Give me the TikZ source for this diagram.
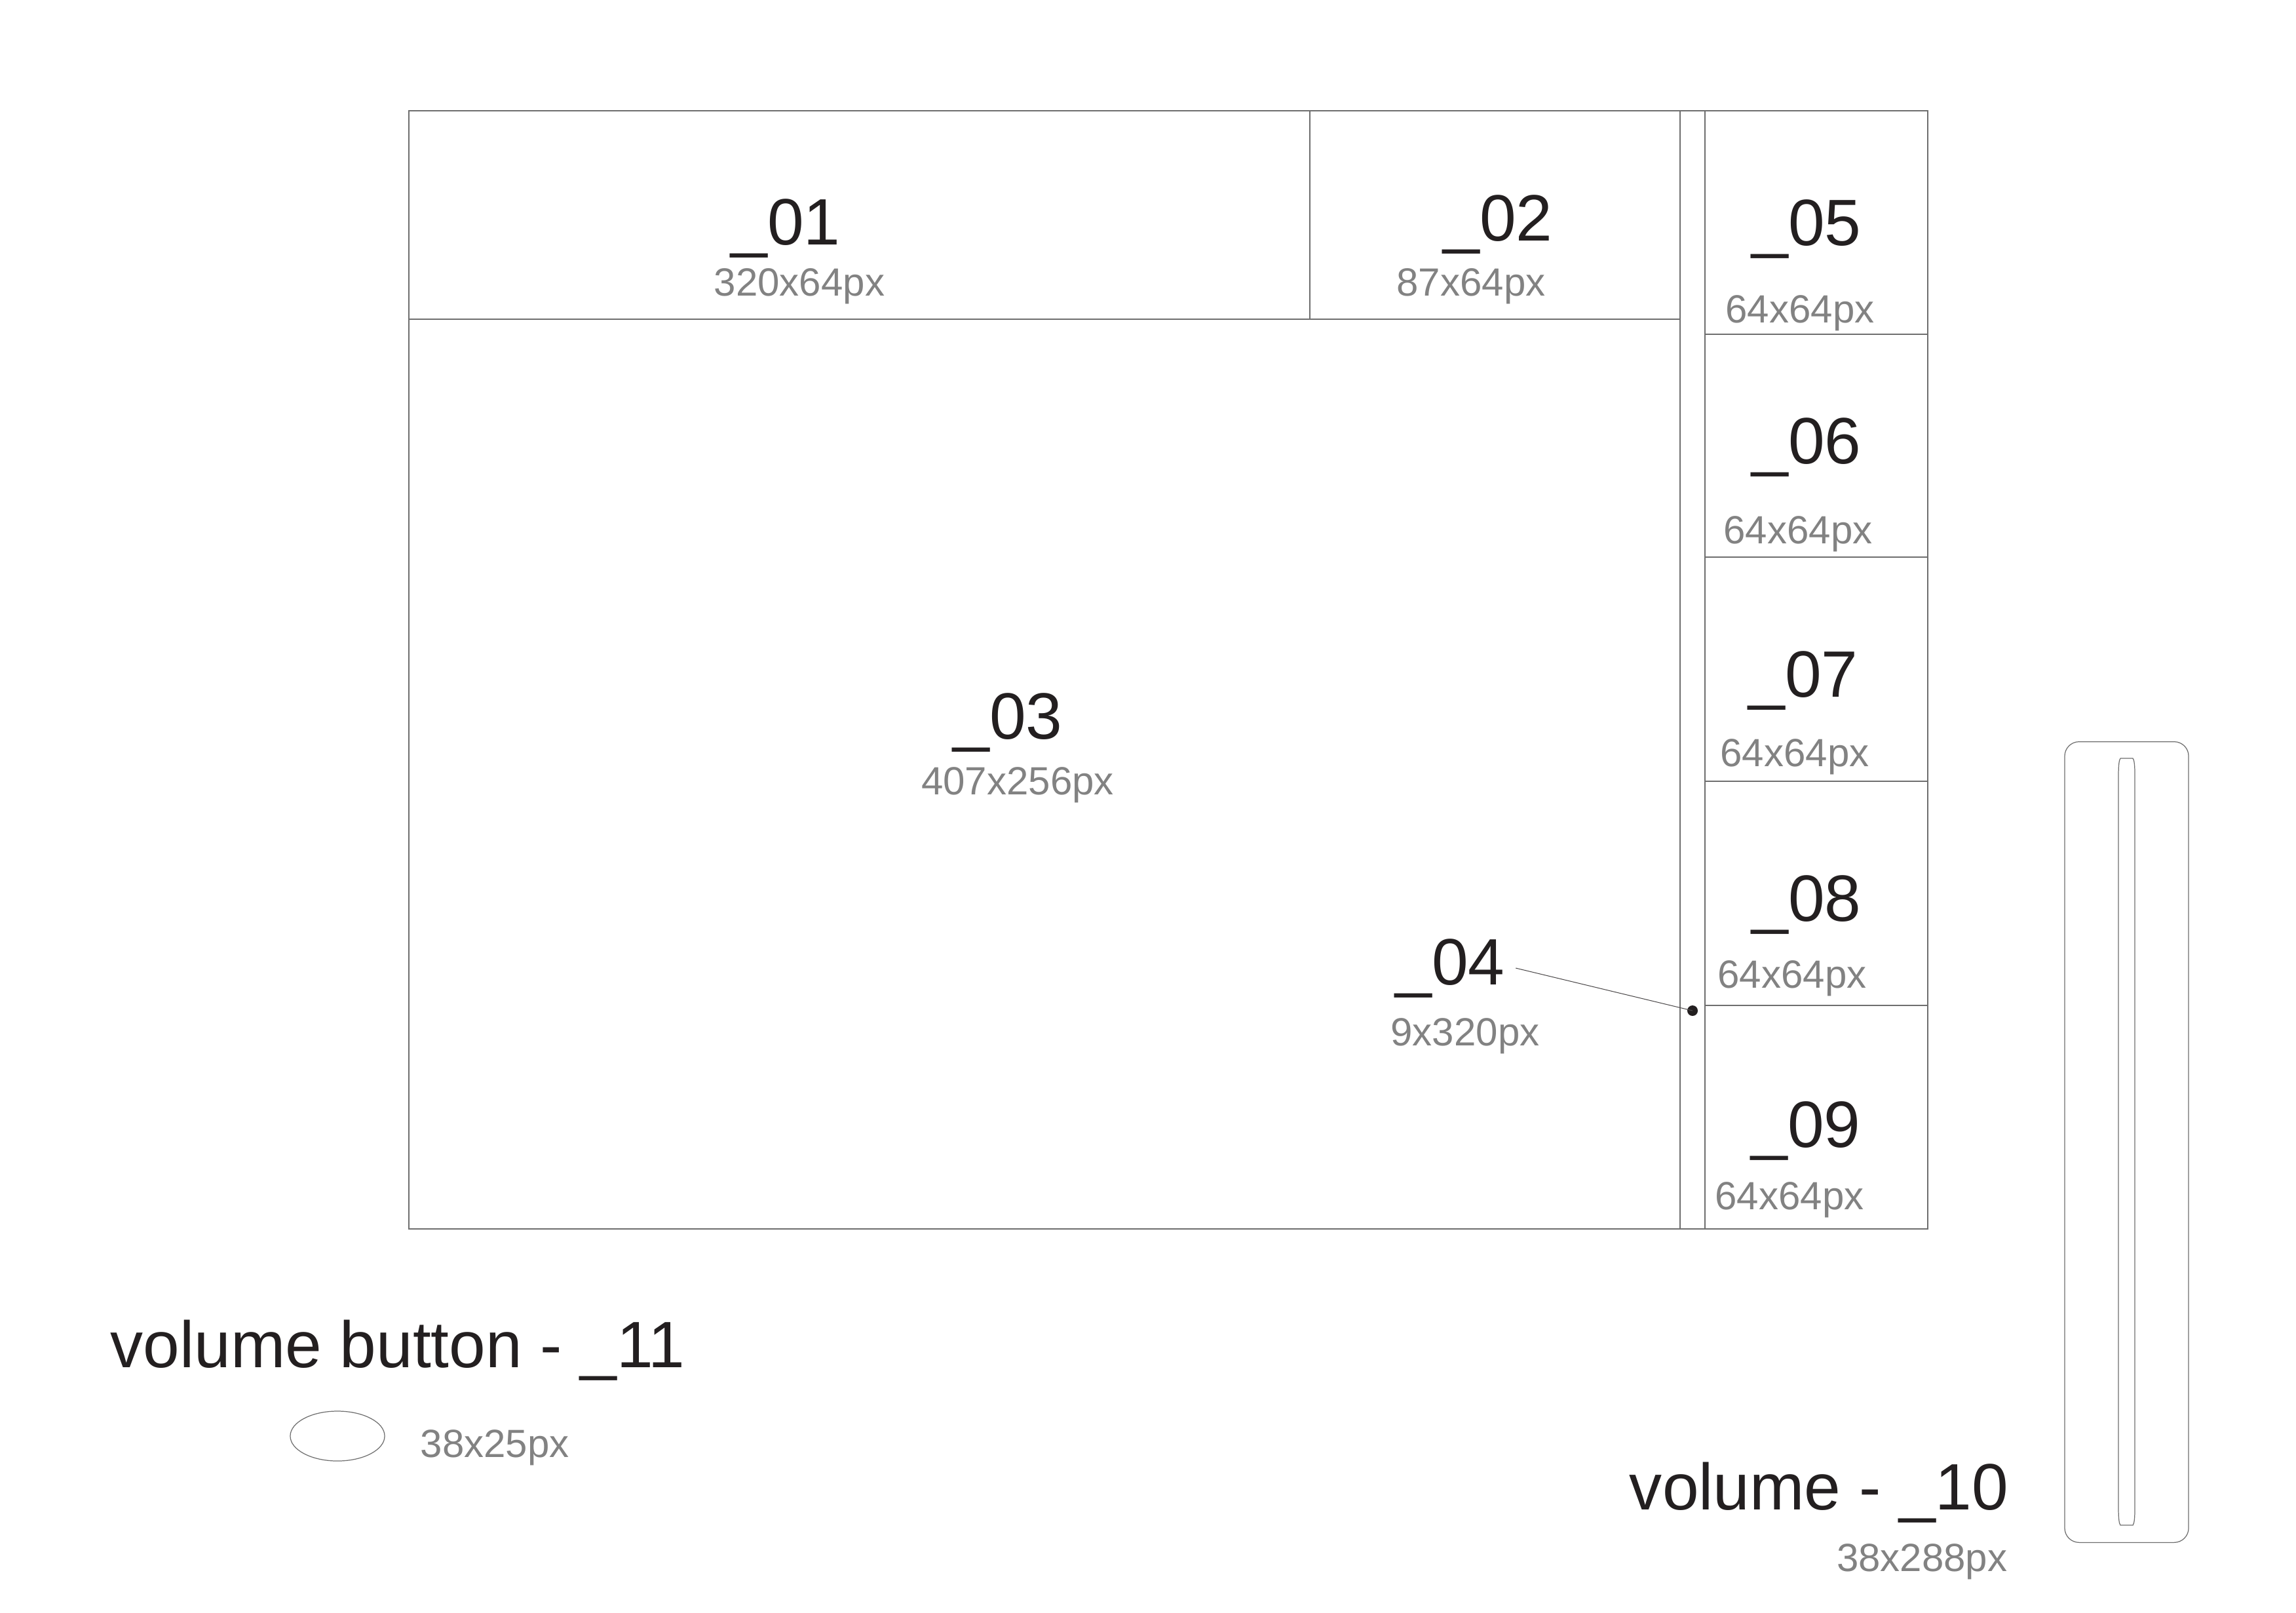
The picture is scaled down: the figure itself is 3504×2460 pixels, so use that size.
\documentclass[tikz,border=0pt]{standalone}
\usepackage{fontspec}
\setmainfont{Liberation Sans}
\usepackage{tikz}
\usetikzlibrary{shapes.geometric}
\definecolor{ink}{HTML}{231F20}
\definecolor{dim}{HTML}{828282}
\definecolor{wire}{HTML}{6E6E6E}

\begin{document}
\begin{tikzpicture}[
  x=0.01cm, y=-0.01cm,
  wire/.style={draw=wire, line width=0.45pt},
  slim/.style={draw=wire, line width=0.35pt},
  tag/.style={inner sep=0pt, anchor=base, text=ink,
              font=\fontsize{28.45pt}{34pt}\selectfont},
  size/.style={inner sep=0pt, anchor=base, text=dim,
               font=\fontsize{17.07pt}{20pt}\selectfont},
  lead/.style={draw=ink!80, line width=0.3pt}
]
  \useasboundingbox (0,0) rectangle (3504,2460);

  % Screen frame
  \draw[wire] (624,169) rectangle (2942,1875);
  \draw[wire] (624,487) -- (2564,487);
  \draw[wire] (1999,169) -- (1999,487);
  \draw[wire] (2564,169) -- (2564,1875);
  \draw[wire] (2602,169) -- (2602,1875);

  % Button column
  \draw[wire] (2602,510) -- (2942,510);
  \draw[wire] (2602,850) -- (2942,850);
  \draw[wire] (2602,1192) -- (2942,1192);
  \draw[wire] (2602,1534) -- (2942,1534);

  % Top row
  \node[tag] (l01) at (1199,373) {\_01};
  \node[size] (s01) at (1220,451) {320x64px};
  \node[tag] (l02) at (2286,367) {\_02};
  \node[size] (s02) at (2245,451) {87x64px};

  % Main area
  \node[tag] (l03) at (1538,1127) {\_03};
  \node[size] (s03) at (1553,1212) {407x256px};

  % Bar
  \node[tag] (l04) at (2213,1502) {\_04};
  \node[size] (s04) at (2236,1595) {9x320px};
  \coordinate (dot04) at (2583,1542);
  \fill[ink] (dot04) circle[radius=0.08cm];
  \draw[lead] ([xshift=0.16cm]l04.east) -- (dot04);

  % Buttons
  \node[tag] (l05) at (2757,374) {\_05};
  \node[size] (s05) at (2747,492) {64x64px};
  \node[tag] (l06) at (2757,707) {\_06};
  \node[size] (s06) at (2744,829) {64x64px};
  \node[tag] (l07) at (2752,1063) {\_07};
  \node[size] (s07) at (2739,1169) {64x64px};
  \node[tag] (l08) at (2757,1405) {\_08};
  \node[size] (s08) at (2735,1507) {64x64px};
  \node[tag] (l09) at (2756,1750) {\_09};
  \node[size] (s09) at (2731,1845) {64x64px};

  % Volume button
  \node[tag, anchor=base west] (l11) at (168,2086) {volume button - \_11};
  \node[slim, ellipse, minimum width=1.44cm, minimum height=0.76cm,
        inner sep=0pt] (btn) at (515,2191) {};
  \node[size, anchor=base west] (s11) at (641,2223) {38x25px};

  % Volume slider
  \node[slim, rounded corners=0.22cm, minimum width=1.89cm,
        minimum height=12.21cm, inner sep=0pt] (vol) at (3245.5,1742.5) {};
  \draw[slim] (3236,1157) -- (3255,1157)
    .. controls (3257,1159) and (3258,1168) .. (3258,1182) -- (3258,2302)
    .. controls (3258,2316) and (3257,2325) .. (3255,2327) -- (3236,2327)
    .. controls (3234,2325) and (3233,2316) .. (3233,2302) -- (3233,1182)
    .. controls (3233,1168) and (3234,1159) .. (3236,1157) -- cycle;
  \node[tag, anchor=base east] (l10) at (3066,2303) {volume - \_10};
  \node[size, anchor=base east] (s10) at (3064,2397) {38x288px};
\end{tikzpicture}
\end{document}
